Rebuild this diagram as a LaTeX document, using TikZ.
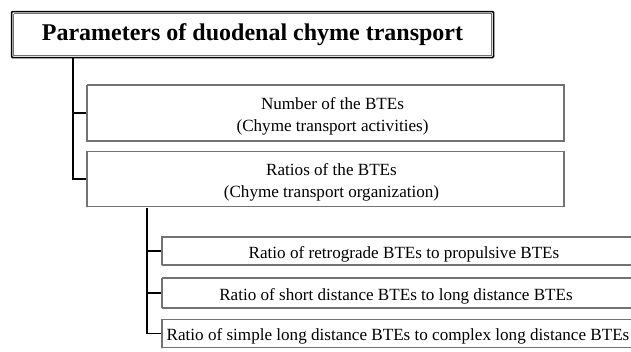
\documentclass[tikz,border=0pt]{standalone}
\usepackage{fontspec}
\setmainfont{Liberation Serif}
\begin{document}
\begin{tikzpicture}[x=1pt,y=-1pt,
  grainy/.style={preaction={draw=black!22,line width=1.9pt},
    draw=black!55, line width=1.6pt, dash pattern=on 0.35pt off 0.45pt},
  box/.style={grainy, rectangle, inner sep=0pt},
  boxtext/.style={align=center, inner sep=0pt,
    font=\fontsize{17.1}{22}\selectfont},
  titlebox/.style={grainy, rectangle, inner sep=0pt,
    font=\fontsize{24}{26}\selectfont\bfseries},
  link/.style={draw=black, line width=1.4pt}]
\useasboundingbox (0,0) rectangle (631,351);

% heading
\node[titlebox, minimum width=478pt, minimum height=42pt] (title) at (252.5,34.5)
  {Parameters of duodenal chyme transport};
\draw[black, line width=1.5pt, rounded corners=1pt]
  ([xshift=-1.2pt,yshift=1.2pt]title.north west) rectangle ([xshift=1.2pt,yshift=-1.2pt]title.south east);

% first level
\node[box, minimum width=477pt, minimum height=56pt] (num) at (325.5,113) {};
\node[boxtext] (numtext) at ([xshift=7pt,yshift=-3.5pt]num.center)
  {Number of the BTEs\\(Chyme transport activities)};
\node[box, minimum width=477pt, minimum height=55pt] (rat) at (325.5,179) {};
\node[boxtext] (rattext) at ([xshift=6pt,yshift=-3.5pt]rat.center)
  {Ratios of the BTEs\\(Chyme transport organization)};

% second level
\node[box, minimum width=472pt, minimum height=28pt] (r1) at (398,251) {};
\node[boxtext] (r1text) at ([xshift=6pt,yshift=-3.5pt]r1.center)
  {Ratio of retrograde BTEs to propulsive BTEs};
\node[box, minimum width=472pt, minimum height=30pt] (r2) at (398,293) {};
\node[boxtext] (r2text) at ([xshift=-2pt,yshift=-3pt]r2.center)
  {Ratio of short distance BTEs to long distance BTEs};
\node[box, minimum width=472pt, minimum height=28pt] (r3) at (398,333.5) {};
\node[boxtext] (r3text) at ([yshift=-3pt]r3.center)
  {Ratio of simple long distance BTEs to complex long distance BTEs};

% connectors
\coordinate (t1) at (73,57);
\coordinate (t2) at (147,208);
\draw[link] (t1) |- (rat.west);
\draw[link] (t1 |- num.west) -- (num.west);
\draw[link] (t2) |- (r3.west);
\draw[link] (t2 |- r1.west) -- (r1.west);
\draw[link] (t2 |- r2.west) -- (r2.west);
\end{tikzpicture}
\end{document}
